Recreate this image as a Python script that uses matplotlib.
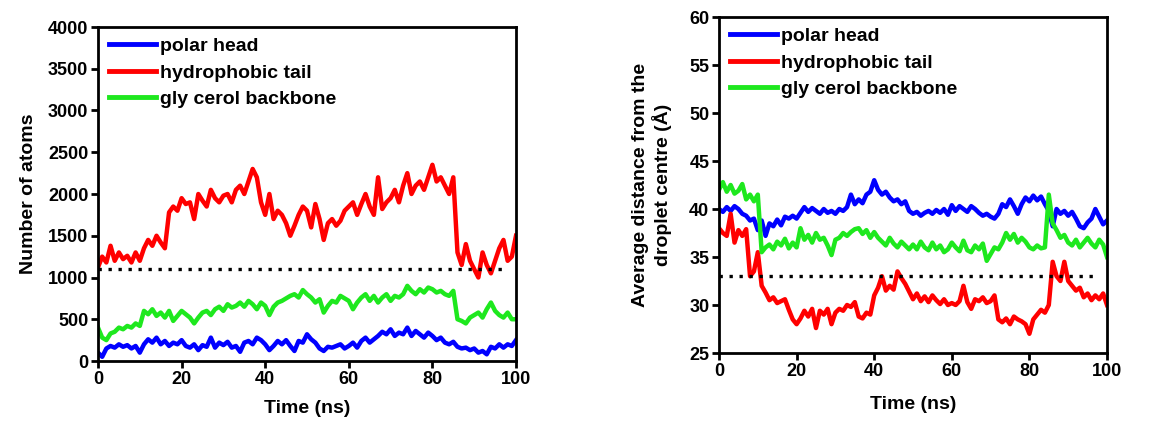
import matplotlib
matplotlib.use("Agg")
import matplotlib.pyplot as plt
import numpy as np

plt.rcParams['font.family'] = ['Liberation Sans', 'DejaVu Sans']
plt.rcParams['font.weight'] = 'bold'

time = list(range(0, 101))
series_names = ["polar head", "hydrophobic tail", "gly cerol backbone"]
colors = ["#0000ff", "#ff0000", "#1ee81e"]

# Left panel: number of atoms
atoms_head = [100,50,150,180,160,200,170,190,150,180,
              100,200,260,220,280,200,240,180,220,200,
              250,180,160,200,130,190,170,280,160,220,
              190,230,160,180,110,220,240,200,280,250,
              200,130,180,240,200,250,180,120,240,220,
              320,260,220,150,120,170,160,180,200,150,
              180,220,160,240,280,220,260,300,350,320,
              380,300,340,320,400,300,360,320,280,340,
              300,250,280,220,200,230,170,150,160,130,
              150,100,120,80,170,150,200,160,200,180,
              250]
atoms_tail = [1120,1250,1180,1380,1200,1300,1220,1260,1180,1300,
              1200,1350,1450,1380,1500,1420,1350,1780,1850,1800,
              1950,1880,1900,1700,2000,1920,1850,2050,1950,1900,
              1980,2000,1900,2050,2100,2000,2150,2300,2200,1900,
              1750,2000,1700,1800,1750,1650,1500,1620,1750,1850,
              1800,1600,1880,1700,1450,1650,1700,1620,1680,1800,
              1850,1900,1750,1880,2000,1850,1750,2200,1820,1900,
              1950,2050,1900,2100,2250,2000,2100,2150,2050,2200,
              2350,2150,2200,2100,2000,2200,1300,1150,1400,1200,
              1100,1000,1300,1150,1050,1200,1350,1450,1200,1250,
              1500]
atoms_glycerol = [400,280,250,330,350,400,380,420,400,450,
                  420,600,560,620,540,580,520,600,480,540,
                  600,560,520,450,520,580,600,550,620,650,
                  600,680,640,660,700,650,720,680,620,700,
                  660,550,650,700,720,750,780,800,760,850,
                  800,760,700,740,580,660,720,700,780,750,
                  720,620,700,760,800,720,780,700,760,800,
                  720,780,760,800,900,840,800,860,820,880,
                  860,820,840,800,780,840,500,480,450,520,
                  550,580,520,620,700,600,550,520,580,500,
                  500]
atoms_ref = 1100

# Right panel: average distance from the droplet centre
dist_head = [40.0,39.7,40.2,39.8,40.3,40.0,39.5,39.3,38.8,39.0,
             37.8,38.8,37.2,38.5,38.2,38.9,38.3,39.2,39.0,39.3,
             39.0,39.6,40.2,39.7,40.1,39.8,39.5,40.0,39.6,39.8,
             39.5,40.0,39.8,40.2,41.5,40.5,41.0,40.6,41.5,41.8,
             43.0,42.0,41.5,41.8,41.2,40.8,41.0,40.5,40.8,39.8,
             39.5,39.7,39.3,39.6,39.8,39.5,39.9,39.6,40.0,39.4,
             40.4,39.8,40.3,40.0,39.7,40.3,40.0,39.6,39.3,39.5,
             39.2,39.0,39.5,40.5,40.2,41.0,40.3,39.5,40.5,41.2,
             40.8,41.4,40.9,41.3,40.5,39.8,38.2,40.0,39.5,39.8,
             39.3,39.7,39.0,38.2,38.0,38.6,39.0,40.0,39.2,38.4,
             38.8]
dist_tail = [38.0,37.5,37.2,39.5,36.5,37.8,37.2,37.9,33.0,33.5,
             35.5,32.0,31.3,30.5,30.8,30.2,30.4,30.6,29.5,28.5,
             28.0,28.6,29.4,28.8,29.6,27.6,29.4,29.0,29.6,28.0,
             29.2,29.6,29.4,30.0,29.8,30.3,28.8,28.6,29.2,29.0,
             31.0,31.8,33.0,31.5,32.0,31.6,33.5,32.8,32.2,31.4,
             30.6,31.2,30.4,30.9,30.3,31.0,30.5,30.1,30.6,30.0,
             30.2,30.0,30.4,32.0,30.3,29.6,30.6,30.4,30.8,30.2,
             30.4,31.0,28.5,28.2,28.6,28.0,28.8,28.5,28.3,28.0,
             27.0,28.5,29.0,29.5,29.2,30.0,34.5,33.0,32.5,34.5,
             32.5,32.0,31.5,31.8,30.8,31.2,30.5,31.0,30.6,31.2,
             30.0]
dist_glycerol = [42.0,42.8,41.8,42.5,41.6,41.9,42.6,41.0,41.5,40.8,
                 41.5,35.5,36.0,36.3,35.8,36.6,36.2,36.9,35.9,36.5,
                 36.0,38.0,36.8,37.3,36.5,37.5,36.8,37.0,36.2,35.2,
                 36.8,37.0,37.5,37.2,37.6,37.9,38.0,37.4,37.8,37.0,
                 37.6,37.0,36.6,36.2,37.0,36.4,36.0,36.6,36.2,35.8,
                 36.3,35.8,36.6,36.0,35.7,36.5,35.8,36.2,35.5,35.8,
                 36.5,36.0,35.6,36.7,35.7,35.5,36.2,35.8,36.4,34.6,
                 35.3,36.0,35.8,36.5,37.5,36.8,37.4,36.5,37.0,36.6,
                 36.0,35.8,36.2,35.9,36.0,41.5,38.5,37.8,37.0,37.3,
                 36.5,36.2,36.8,36.0,36.5,37.0,36.4,36.0,36.8,36.3,
                 35.0]
dist_ref = 33

fig = plt.figure(figsize=(11.64, 4.23), dpi=100)
W, H = 1164, 423
ax1 = fig.add_axes([98 / W, (H - 361) / H, (516 - 98) / W, (361 - 27) / H])
ax2 = fig.add_axes([719 / W, (H - 353) / H, (1107 - 719) / W, (353 - 17) / H])

def style(ax, xlabpad):
    for s in ax.spines.values():
        s.set_linewidth(2.0)
    ax.tick_params(direction='out', length=5, width=2, labelsize=13,
                   top=False, right=False, pad=2)
    for lab in ax.get_xticklabels() + ax.get_yticklabels():
        lab.set_fontweight('bold')
    ax.set_xlim(0, 100)
    ax.set_xticks([0, 20, 40, 60, 80, 100])
    ax.set_xlabel("Time (ns)", fontsize=14, fontweight='bold', labelpad=xlabpad)

for ax, data, ref, ylim, yticks, ylabel, ylabpad, xlabpad in [
        (ax1, [atoms_head, atoms_tail, atoms_glycerol], atoms_ref, (0, 4000),
         np.arange(0, 4001, 500), "Number of atoms", 8, 9),
        (ax2, [dist_head, dist_tail, dist_glycerol], dist_ref, (25, 60),
         np.arange(25, 61, 5), "Average distance from the\ndroplet centre (\u00c5)", 12, 12)]:
    for vals, name, c in zip(data, series_names, colors):
        ax.plot(time, vals, color=c, lw=3.2, label=name)
    ax.hlines(ref, 0, 98, colors='black', linestyles=(0, (1, 2.0)), lw=2.4)
    ax.set_ylim(*ylim)
    ax.set_yticks(yticks)
    ax.set_ylabel(ylabel, fontsize=14, fontweight='bold', labelpad=ylabpad)
    style(ax, xlabpad)
    leg = ax.legend(loc='upper left', frameon=False, handlelength=2.45,
                    handletextpad=0.2, labelspacing=0.45, borderaxespad=0.25,
                    borderpad=0.3, prop={'weight': 'bold', 'size': 14})
    for line in leg.get_lines():
        line.set_linewidth(3.5)

fig.savefig("out.png", dpi=100)
